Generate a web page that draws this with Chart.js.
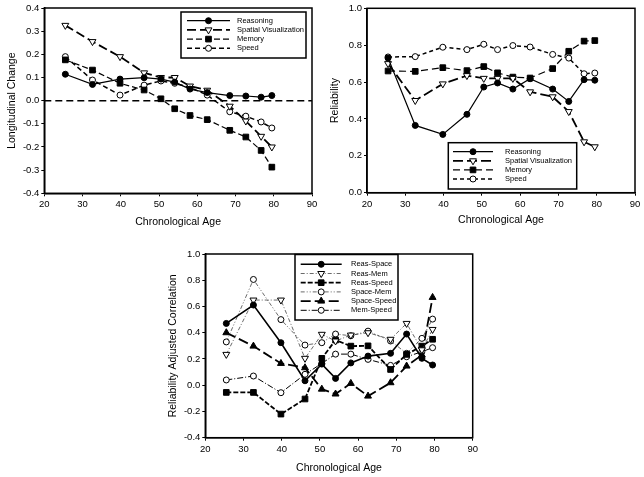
<!DOCTYPE html>
<html>
<head>
<meta charset="utf-8">
<script src="https://cdn.jsdelivr.net/npm/chart.js@4.4.1/dist/chart.umd.min.js"></script>
<style>
  body { margin: 0; background: #fff; }
  #wrap { position: relative; width: 644px; height: 477px; overflow: hidden; background: #fff; }
  #wrap canvas { position: absolute; }
</style>
</head>
<body>
<div id="wrap">
  <canvas id="c1" width="320" height="240" style="left:0;top:0"></canvas>
  <canvas id="c2" width="324" height="240" style="left:320px;top:0"></canvas>
  <canvas id="c3" width="340" height="237" style="left:150px;top:240px"></canvas>
</div>
<script>
// ages (x) shared by all three panels
const ages = [25.5, 32.6, 39.8, 46.1, 50.5, 54.1, 58.1, 62.6, 68.5, 72.7, 76.7, 79.5];

// panel 1 : longitudinal change
const lcReasoning = [0.114, 0.070, 0.093, 0.099, 0.093, 0.080, 0.050, 0.035, 0.022, 0.020, 0.015, 0.022];
const lcSpatial   = [0.325, 0.255, 0.190, 0.120, 0.100, 0.100, 0.063, 0.045, -0.024, -0.088, -0.154, -0.200];
const lcMemory    = [0.176, 0.132, 0.075, 0.046, 0.008, -0.035, -0.064, -0.082, -0.128, -0.157, -0.215, -0.287];
const lcSpeed     = [0.190, 0.089, 0.024, 0.067, 0.085, 0.075, 0.057, 0.024, -0.048, -0.067, -0.092, -0.118];
const lcZero      = [0, 0];

// panel 2 : reliability
const relReasoning = [0.730, 0.365, 0.316, 0.425, 0.573, 0.595, 0.562, 0.618, 0.562, 0.495, 0.613, 0.610];
const relSpatial   = [0.700, 0.500, 0.590, 0.635, 0.620, 0.620, 0.620, 0.547, 0.520, 0.440, 0.276, 0.249];
const relMemory    = [0.660, 0.658, 0.678, 0.662, 0.684, 0.650, 0.627, 0.622, 0.673, 0.767, 0.822, 0.825];
const relSpeed     = [0.736, 0.738, 0.789, 0.776, 0.805, 0.776, 0.798, 0.790, 0.750, 0.730, 0.645, 0.649];

// panel 3 : reliability adjusted correlation
const rcReasSpace  = [0.471, 0.611, 0.324, 0.034, 0.161, 0.052, 0.170, 0.222, 0.243, 0.390, 0.205, 0.154];
const rcReasMem    = [0.235, 0.649, 0.649, 0.205, 0.388, 0.337, 0.382, 0.400, 0.350, 0.471, 0.270, 0.425];
const rcReasSpeed  = [-0.055, -0.055, -0.220, -0.105, 0.205, 0.344, 0.298, 0.300, 0.120, 0.235, 0.298, 0.350];
const rcSpaceMem   = [0.330, 0.806, 0.500, 0.306, 0.324, 0.390, 0.377, 0.412, 0.337, 0.243, 0.357, 0.504];
const rcSpaceSpeed = [0.400, 0.298, 0.166, 0.133, -0.030, -0.067, 0.014, -0.083, 0.019, 0.146, 0.230, 0.669];
const rcMemSpeed   = [0.040, 0.070, -0.057, 0.083, 0.166, 0.237, 0.237, 0.197, 0.151, 0.217, 0.255, 0.286];

const xRange = [20, 90];

Chart.defaults.font.family = '"Liberation Sans", Arial, sans-serif';
Chart.defaults.color = '#000';

// 枠線
const frame = {
  id: 'frame',
  afterDatasetsDraw(chart) {
    const { ctx, chartArea: a } = chart;
    ctx.save();
    ctx.strokeStyle = '#000';
    ctx.lineWidth = 1.5;
    ctx.setLineDash([]);
    ctx.strokeRect(a.left, a.top, a.right - a.left, a.bottom - a.top);
    ctx.restore();
  }
};

// 凡例（線＋マーカー）
const boxLegend = {
  id: 'boxLegend',
  afterDraw(chart, args, o) {
    const ctx = chart.ctx;
    ctx.save();
    ctx.fillStyle = '#fff';
    ctx.fillRect(o.x, o.y, o.w, o.h);
    ctx.strokeStyle = '#000';
    ctx.lineWidth = 1.5;
    ctx.strokeRect(o.x, o.y, o.w, o.h);
    let row = 0;
    chart.data.datasets.forEach(ds => {
      if (ds.noLegend) return;
      const y = o.row0 + row * o.rowGap;
      row++;
      ctx.beginPath();
      ctx.setLineDash(ds.borderDash || []);
      ctx.lineWidth = ds.borderWidth;
      ctx.strokeStyle = ds.borderColor;
      ctx.moveTo(o.line0, y);
      ctx.lineTo(o.line1, y);
      ctx.stroke();
      ctx.setLineDash([]);
      ctx.fillStyle = ds.pointBackgroundColor;
      ctx.strokeStyle = ds.pointBorderColor;
      ctx.lineWidth = ds.pointBorderWidth;
      Chart.helpers.drawPoint(ctx, {
        pointStyle: ds.pointStyle,
        rotation: ds.pointRotation || 0,
        radius: ds.pointRadius,
        borderWidth: ds.pointBorderWidth
      }, (o.line0 + o.line1) / 2, y);
      ctx.fillStyle = '#000';
      ctx.font = o.font;
      ctx.textAlign = 'left';
      ctx.textBaseline = 'middle';
      ctx.fillText(ds.label, o.textX, y);
    });
    ctx.restore();
  }
};

function series(label, values, st) {
  return {
    label: label,
    data: values.map((v, i) => ({ x: ages[i], y: v })),
    borderColor: st.color || '#000',
    borderWidth: st.lw,
    borderDash: st.dash || [],
    pointStyle: st.shape,
    pointRotation: st.rot || 0,
    pointRadius: st.r,
    pointBackgroundColor: st.fill ? '#000' : '#fff',
    pointBorderColor: '#000',
    pointBorderWidth: 1,
    tension: 0,
    fill: false
  };
}

function fmt(v) {
  return Math.abs(v) < 1e-9 ? '0.0' : v.toFixed(1);
}

function makeChart(id, datasets, yAxis, lay, legendBox) {
  return new Chart(document.getElementById(id), {
    type: 'line',
    data: { datasets: datasets },
    plugins: [frame, boxLegend],
    options: {
      responsive: false,
      devicePixelRatio: 1,
      animation: false,
      events: [],
      layout: { padding: { top: lay.top, right: lay.right, left: 0, bottom: 0 } },
      plugins: {
        legend: { display: false },
        tooltip: { enabled: false },
        boxLegend: legendBox
      },
      scales: {
        x: {
          type: 'linear',
          min: xRange[0],
          max: xRange[1],
          afterFit: s => { s.height = lay.xh; },
          ticks: { stepSize: 10, autoSkip: false, maxRotation: 0, padding: lay.xpad, font: { size: 9.5 } },
          grid: { drawOnChartArea: false, drawTicks: true, tickLength: 3, color: '#000' },
          border: { display: true, color: '#000', width: 1.5 },
          title: { display: true, text: 'Chronological Age', font: { size: 10.5 }, padding: { top: 0, bottom: lay.xtpad } }
        },
        y: {
          min: yAxis.min,
          max: yAxis.max,
          afterFit: s => { s.width = lay.yw; },
          ticks: { stepSize: yAxis.step, padding: 2, font: { size: 9.5 }, callback: v => fmt(v) },
          grid: { drawOnChartArea: false, drawTicks: true, tickLength: 3, color: '#000' },
          border: { display: true, color: '#000', width: 1.5 },
          title: { display: true, text: yAxis.title, font: { size: 10.5 }, padding: { top: lay.ytpad, bottom: 0 } }
        }
      }
    }
  });
}

// パネル1
makeChart('c1', [
  series('Reasoning', lcReasoning, { lw: 1.2, shape: 'circle', r: 3, fill: true }),
  series('Spatial Visualization', lcSpatial, { lw: 1.8, dash: [9, 4], shape: 'triangle', rot: 180, r: 4, fill: false }),
  series('Memory', lcMemory, { lw: 1.2, dash: [6, 3], shape: 'rect', r: 4, fill: true }),
  series('Speed', lcSpeed, { lw: 1.5, dash: [5, 3], shape: 'circle', r: 3, fill: false }),
  {
    label: 'zero', noLegend: true,
    data: lcZero.map((v, i) => ({ x: xRange[i], y: v })),
    borderColor: '#000', borderWidth: 1.5, borderDash: [7, 4], pointRadius: 0
  }
], { min: -0.4, max: 0.4, step: 0.1, title: 'Longitudinal Change' },
{ top: 8, right: 8, xh: 46.7, yw: 44.3, xpad: 2.3, xtpad: 12, ytpad: 6 },
{ x: 181, y: 12, w: 125, h: 46, row0: 20.7, rowGap: 9.2, line0: 187, line1: 230, textX: 237, font: '7.5px "Liberation Sans", Arial, sans-serif' });

// パネル2
makeChart('c2', [
  series('Reasoning', relReasoning, { lw: 1.2, shape: 'circle', r: 3, fill: true }),
  series('Spatial Visualization', relSpatial, { lw: 1.8, dash: [10, 4], shape: 'triangle', rot: 180, r: 4, fill: false }),
  series('Memory', relMemory, { lw: 1.2, dash: [7, 4], shape: 'rect', r: 4, fill: true }),
  series('Speed', relSpeed, { lw: 1.5, dash: [4, 3], shape: 'circle', r: 3, fill: false })
], { min: 0, max: 1, step: 0.2, title: 'Reliability' },
{ top: 8.3, right: 9, xh: 47.3, yw: 47, xpad: 3, xtpad: 13.7, ytpad: 8.7 },
{ x: 128.3, y: 142.7, w: 128.4, h: 46.3, row0: 151.7, rowGap: 9.1, line0: 133, line1: 173, textX: 185, font: '7.5px "Liberation Sans", Arial, sans-serif' });

// パネル3
makeChart('c3', [
  series('Reas-Space', rcReasSpace, { lw: 1.6, shape: 'circle', r: 3, fill: true }),
  series('Reas-Mem', rcReasMem, { lw: 0.8, dash: [4, 2, 1, 2], color: '#444', shape: 'triangle', rot: 180, r: 4, fill: false }),
  series('Reas-Speed', rcReasSpeed, { lw: 1.8, dash: [5, 2], shape: 'rect', r: 4, fill: true }),
  series('Space-Mem', rcSpaceMem, { lw: 0.8, dash: [4, 2, 1, 2, 1, 2], color: '#444', shape: 'circle', r: 3, fill: false }),
  series('Space-Speed', rcSpaceSpeed, { lw: 1.8, dash: [10, 4], shape: 'triangle', r: 4, fill: true }),
  series('Mem-Speed', rcMemSpeed, { lw: 1, dash: [6, 2, 1, 2], shape: 'circle', r: 3, fill: false })
], { min: -0.4, max: 1.0, step: 0.2, title: 'Reliability Adjusted Correlation' },
{ top: 14, right: 17.3, xh: 39.3, yw: 55.3, xpad: 3.3, xtpad: 2.4, ytpad: 17 },
{ x: 145, y: 14.5, w: 103, h: 65.5, row0: 24.3, rowGap: 9.2, line0: 150.7, line1: 191.7, textX: 201, font: '7.5px "Liberation Sans", Arial, sans-serif' });
</script>
</body>
</html>
